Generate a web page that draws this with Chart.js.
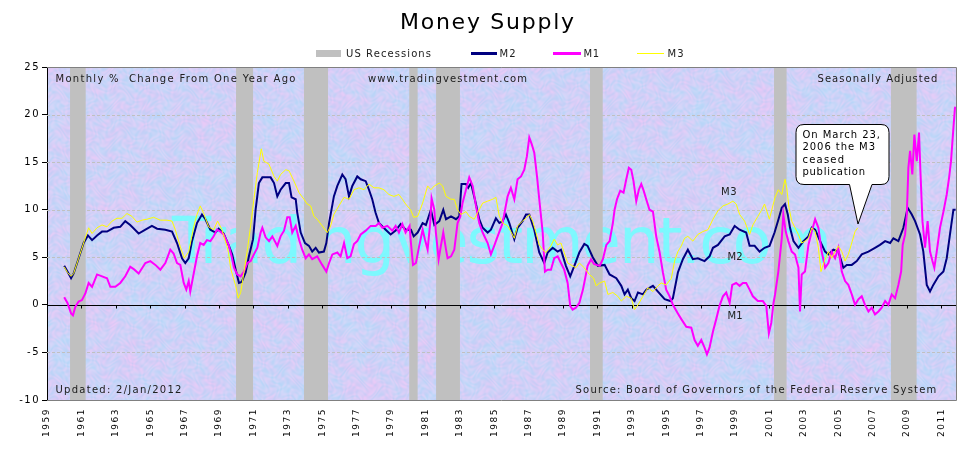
<!DOCTYPE html>
<html>
<head>
<meta charset="utf-8">
<script src="https://cdn.jsdelivr.net/npm/chart.js"></script>
<style>
  html, body { margin: 0; padding: 0; background: #ffffff; }
  #c { display: block; }
</style>
</head>
<body>
<canvas id="c" width="970" height="455"></canvas>
<script>
// ---------------- DATA ----------------
const tickYears = [1959,1961,1963,1965,1967,1969,1971,1973,1975,1977,1979,1981,1983,1985,1987,1989,1991,1993,1995,1997,1999,2001,2003,2005,2007,2009,2011];
const yTickValues = [-10,-5,0,5,10,15,20,25];

const recessionStart = [1960.34, 1969.99, 1973.94, 1980.06, 1981.62, 1990.57, 2001.27, 2008.07];
const recessionEnd   = [1961.25, 1970.98, 1975.34, 1980.55, 1983.01, 1991.31, 2002.00, 2009.56];

const m2Years = [1960.00,1960.19,1960.40,1960.55,1960.84,1961.13,1961.38,1961.62,1961.91,1962.20,1962.49,1962.88,1963.26,1963.55,1963.84,1964.33,1964.72,1965.10,1965.40,1965.88,1966.27,1966.56,1966.85,1967.04,1967.24,1967.43,1967.72,1968.01,1968.21,1968.50,1968.79,1968.98,1969.27,1969.58,1969.77,1969.97,1970.16,1970.32,1970.55,1970.74,1970.98,1971.13,1971.32,1971.52,1972.00,1972.20,1972.39,1972.58,1972.88,1973.07,1973.22,1973.46,1973.55,1973.75,1974.00,1974.23,1974.42,1974.62,1974.81,1975.10,1975.24,1975.40,1975.68,1975.88,1976.17,1976.36,1976.56,1976.75,1977.04,1977.24,1977.53,1977.72,1977.91,1978.10,1978.30,1978.69,1978.98,1979.27,1979.56,1979.85,1980.16,1980.32,1980.55,1980.84,1981.03,1981.32,1981.52,1981.81,1982.04,1982.20,1982.49,1982.78,1982.97,1983.10,1983.36,1983.49,1983.65,1983.94,1984.13,1984.33,1984.62,1984.81,1985.10,1985.30,1985.49,1985.68,1985.88,1986.17,1986.36,1986.65,1986.85,1987.04,1987.33,1987.62,1987.91,1988.11,1988.40,1988.69,1988.88,1989.17,1989.42,1989.66,1989.95,1990.24,1990.43,1990.73,1991.03,1991.42,1991.71,1992.10,1992.39,1992.58,1992.77,1992.97,1993.16,1993.36,1993.65,1993.84,1994.23,1994.52,1994.91,1995.24,1995.39,1995.68,1995.97,1996.26,1996.55,1996.84,1997.23,1997.52,1997.72,1998.01,1998.40,1998.69,1998.98,1999.27,1999.65,1999.85,2000.14,2000.43,2000.72,2001.01,2001.30,2001.53,2001.72,2001.91,2002.07,2002.20,2002.40,2002.69,2002.98,2003.27,2003.46,2003.66,2003.95,2004.24,2004.43,2004.72,2005.01,2005.30,2005.50,2005.79,2006.08,2006.37,2006.76,2007.14,2007.43,2007.73,2008.02,2008.21,2008.50,2008.79,2009.04,2009.28,2009.47,2009.76,2009.95,2010.15,2010.34,2010.53,2010.83,2011.12,2011.31,2011.50,2011.70,2011.83];
const m2Values = [4.1,3.5,2.8,3.3,4.9,6.5,7.3,6.8,7.3,7.7,7.7,8.1,8.2,8.8,8.4,7.5,7.9,8.3,8.0,7.9,7.7,6.5,4.9,4.4,4.9,6.7,8.6,9.5,9.0,7.9,7.6,8.0,7.5,6.2,5.3,3.7,2.3,2.4,3.4,5.1,6.9,10.0,12.8,13.4,13.4,12.8,11.4,12.1,12.8,12.8,11.3,11.1,9.7,7.6,6.5,6.2,5.6,6.0,5.5,5.6,6.5,8.6,11.4,12.5,13.7,13.2,11.4,12.5,13.5,13.2,13.0,12.1,11.1,9.7,8.6,7.9,7.4,7.8,8.5,7.9,7.9,7.2,7.6,8.6,8.4,10.0,8.4,8.8,10.0,9.0,9.3,9.0,9.3,12.7,12.7,12.3,12.8,10.6,9.0,8.1,7.6,7.9,9.1,8.6,8.8,9.5,8.6,6.9,8.1,8.8,9.5,9.5,7.9,5.5,4.4,5.5,6.0,5.6,5.8,4.1,3.0,4.1,5.5,6.4,6.2,5.0,4.1,4.2,3.2,2.8,2.0,1.1,1.6,0.7,0.4,1.3,1.1,1.6,2.0,1.4,0.6,0.4,0.7,3.4,4.8,5.8,4.8,4.9,4.6,5.1,6.0,6.3,7.2,7.4,8.3,7.9,7.6,6.2,6.2,5.6,6.0,6.2,7.6,9.0,10.2,10.6,9.5,8.1,6.7,6.0,6.7,7.2,8.1,7.9,6.7,5.6,5.3,5.8,5.6,3.9,4.2,4.2,4.6,5.3,5.6,6.0,6.3,6.7,6.5,7.0,6.7,8.1,10.2,9.5,8.8,7.4,5.6,2.1,1.4,2.1,3.0,3.5,4.9,7.4,10.0,10.0];

const m1Years = [1960.00,1960.19,1960.40,1960.51,1960.65,1960.84,1961.03,1961.23,1961.42,1961.62,1961.91,1962.20,1962.49,1962.68,1962.97,1963.26,1963.55,1963.84,1964.08,1964.33,1964.72,1965.01,1965.30,1965.59,1965.88,1966.17,1966.36,1966.56,1966.75,1966.95,1967.10,1967.24,1967.33,1967.53,1967.72,1967.91,1968.11,1968.30,1968.50,1968.69,1968.88,1969.08,1969.27,1969.56,1969.73,1969.87,1970.06,1970.26,1970.45,1970.65,1970.84,1971.03,1971.23,1971.42,1971.52,1971.71,1971.91,1972.10,1972.39,1972.58,1972.78,1972.97,1973.11,1973.26,1973.46,1973.65,1973.84,1974.04,1974.23,1974.42,1974.71,1975.00,1975.24,1975.40,1975.59,1975.88,1976.07,1976.27,1976.46,1976.65,1976.85,1977.04,1977.24,1977.53,1977.82,1978.11,1978.30,1978.50,1978.79,1979.08,1979.27,1979.46,1979.66,1979.85,1980.08,1980.16,1980.28,1980.45,1980.64,1980.84,1980.97,1981.13,1981.28,1981.36,1981.52,1981.61,1981.77,1981.90,1982.04,1982.20,1982.29,1982.49,1982.68,1982.87,1983.03,1983.16,1983.36,1983.55,1983.75,1983.94,1984.13,1984.33,1984.62,1984.81,1985.00,1985.20,1985.49,1985.78,1985.97,1986.17,1986.36,1986.56,1986.75,1986.90,1987.04,1987.18,1987.33,1987.49,1987.62,1987.82,1987.95,1988.11,1988.30,1988.49,1988.69,1988.88,1989.07,1989.27,1989.42,1989.56,1989.75,1989.95,1990.16,1990.28,1990.43,1990.63,1990.80,1990.94,1991.13,1991.32,1991.52,1991.71,1991.90,1992.00,1992.14,1992.33,1992.52,1992.68,1992.83,1992.97,1993.10,1993.26,1993.41,1993.55,1993.69,1993.84,1994.03,1994.23,1994.42,1994.62,1994.81,1995.00,1995.20,1995.39,1995.68,1995.88,1996.17,1996.46,1996.65,1996.84,1997.04,1997.23,1997.37,1997.52,1997.72,1997.91,1998.10,1998.30,1998.49,1998.69,1998.84,1999.07,1999.27,1999.46,1999.65,1999.85,2000.04,2000.33,2000.62,2000.82,2000.97,2001.11,2001.24,2001.33,2001.52,2001.72,2001.81,2001.95,2002.10,2002.30,2002.49,2002.69,2002.78,2002.88,2003.07,2003.27,2003.46,2003.66,2003.85,2004.04,2004.24,2004.43,2004.62,2004.82,2005.01,2005.21,2005.40,2005.59,2005.79,2005.98,2006.18,2006.37,2006.56,2006.76,2006.95,2007.14,2007.34,2007.53,2007.73,2007.92,2008.11,2008.31,2008.50,2008.66,2008.75,2008.89,2008.99,2009.08,2009.18,2009.31,2009.43,2009.57,2009.70,2009.78,2009.90,2010.05,2010.20,2010.34,2010.48,2010.59,2010.73,2010.92,2011.12,2011.31,2011.45,2011.56,2011.70,2011.79,2011.83];
const m1Values = [0.8,0.2,-0.9,-1.1,-0.2,0.35,0.5,1.2,2.3,1.9,3.2,3.0,2.8,1.9,1.9,2.3,3.0,4.0,3.7,3.3,4.4,4.6,4.2,3.7,4.4,5.8,5.4,4.4,4.2,2.3,1.6,2.5,1.4,3.3,5.1,6.5,6.3,6.8,6.7,7.2,7.9,7.7,7.4,6.3,5.1,3.9,3.2,3.0,3.5,4.4,4.6,5.3,6.0,7.6,8.1,7.1,6.7,7.2,6.2,7.2,7.8,9.2,9.2,7.6,8.3,6.9,5.8,4.9,5.3,4.8,5.1,4.2,3.5,4.4,5.3,5.5,5.1,6.5,4.9,5.1,6.4,6.7,7.4,7.8,8.3,8.3,8.6,8.1,8.3,7.8,8.3,7.6,8.5,7.6,8.3,6.5,4.2,4.4,6.2,7.9,6.9,5.8,8.6,11.2,10.0,7.6,4.8,6.2,7.6,5.8,4.9,5.1,5.8,8.6,9.3,10.7,12.1,13.4,12.5,10.4,8.6,7.6,6.5,5.3,6.2,7.2,8.6,11.4,12.3,11.1,13.2,13.5,14.2,15.6,17.6,16.9,16.0,13.5,11.1,7.6,3.5,3.7,3.7,4.9,5.1,4.4,3.7,2.3,-0.1,-0.5,-0.3,0.2,1.6,2.7,4.1,4.8,4.3,4.2,4.1,4.8,6.3,6.7,8.6,10.0,11.1,12.0,11.8,13.2,14.4,14.2,13.0,10.9,12.1,12.7,12.0,11.1,10.0,9.8,7.2,5.5,3.4,1.6,0.9,0.0,-0.9,-1.5,-2.3,-2.4,-3.7,-4.3,-3.7,-4.5,-5.2,-4.5,-2.8,-1.5,-0.1,0.9,1.3,0.2,2.1,2.3,2.0,2.3,2.3,1.6,0.9,0.4,0.4,-0.1,-3.0,-1.9,0.2,1.1,3.5,7.0,9.5,7.7,6.7,5.6,5.3,3.9,-0.7,3.2,3.5,6.3,7.7,9.0,8.1,5.6,3.9,4.4,5.6,4.9,6.0,3.5,2.5,2.1,1.1,0.0,0.6,0.9,0.0,-0.7,-0.3,-1.0,-0.7,-0.3,0.4,0.0,1.1,0.7,2.1,3.5,6.3,7.4,9.5,14.4,16.2,13.7,17.9,15.1,18.1,14.1,8.8,6.0,8.8,5.6,4.6,3.9,5.6,8.1,9.8,11.6,13.4,15.1,18.6,20.7,20.8];

const m3Years = [1960.00,1960.19,1960.40,1960.55,1960.84,1961.13,1961.42,1961.62,1961.91,1962.20,1962.49,1962.78,1963.07,1963.36,1963.65,1963.94,1964.23,1964.52,1964.81,1965.20,1965.59,1965.98,1966.27,1966.46,1966.75,1966.98,1967.24,1967.53,1967.72,1967.91,1968.11,1968.40,1968.69,1968.92,1969.17,1969.47,1969.55,1969.68,1969.97,1970.12,1970.26,1970.45,1970.65,1970.84,1971.03,1971.23,1971.46,1971.61,1971.90,1972.20,1972.39,1972.58,1972.88,1973.07,1973.36,1973.65,1973.94,1974.13,1974.33,1974.52,1974.71,1975.00,1975.30,1975.49,1975.68,1975.97,1976.27,1976.56,1976.85,1977.14,1977.43,1977.72,1978.01,1978.30,1978.59,1978.88,1979.17,1979.46,1979.66,1979.85,1980.14,1980.32,1980.55,1980.84,1981.13,1981.32,1981.52,1981.81,1982.00,1982.20,1982.49,1982.68,1982.87,1983.07,1983.36,1983.55,1983.84,1984.04,1984.33,1984.62,1984.91,1985.10,1985.30,1985.49,1985.78,1985.97,1986.17,1986.36,1986.65,1986.85,1987.04,1987.24,1987.43,1987.62,1987.82,1988.01,1988.30,1988.49,1988.69,1988.88,1989.07,1989.27,1989.46,1989.75,1989.95,1990.24,1990.53,1990.78,1990.93,1991.13,1991.42,1991.61,1991.90,1992.19,1992.39,1992.68,1992.97,1993.16,1993.36,1993.65,1993.94,1994.23,1994.52,1994.71,1995.00,1995.30,1995.49,1995.68,1995.88,1996.07,1996.26,1996.55,1996.84,1997.13,1997.43,1997.72,1998.01,1998.30,1998.59,1998.88,1999.07,1999.27,1999.56,1999.85,2000.04,2000.33,2000.53,2000.72,2001.00,2001.20,2001.33,2001.52,2001.72,2001.91,2002.01,2002.14,2002.30,2002.49,2002.69,2002.88,2003.07,2003.27,2003.46,2003.66,2003.85,2004.00,2004.20,2004.43,2004.62,2004.82,2005.01,2005.21,2005.40,2005.59,2005.82,2005.98,2006.14];
const m3Values = [4.0,3.4,3.0,3.3,4.9,6.5,8.1,7.5,8.1,8.4,8.2,8.8,9.1,9.1,9.6,9.3,8.7,8.9,9.0,9.2,8.9,8.9,8.8,7.9,6.1,4.9,5.6,8.2,9.5,10.4,9.6,8.2,7.9,8.8,7.9,6.1,5.5,3.8,2.0,0.7,1.3,3.4,5.8,8.3,11.1,13.9,16.4,15.1,14.8,13.5,13.0,13.7,14.2,14.1,13.0,11.8,11.1,10.6,10.4,9.3,9.0,8.3,7.6,8.3,9.5,10.4,11.3,11.1,12.1,12.3,12.1,12.7,12.3,12.3,12.1,11.6,11.4,11.6,11.1,10.6,10.0,9.2,9.3,10.7,12.5,12.1,12.5,12.8,12.5,11.4,11.1,11.1,10.0,9.5,9.8,9.3,9.0,9.7,10.7,10.9,11.1,11.3,9.3,8.6,8.3,7.7,7.0,8.3,8.8,9.1,9.5,8.8,7.6,6.3,5.8,5.5,6.2,6.9,6.3,6.5,5.5,4.4,4.2,3.9,4.4,3.9,3.2,2.8,2.0,2.3,2.5,1.1,1.3,0.9,0.4,0.9,0.7,-0.5,0.0,0.9,1.8,1.4,2.0,2.3,2.1,2.8,4.6,5.6,6.2,7.0,7.2,6.7,7.4,7.7,7.9,9.0,9.9,10.4,10.6,10.9,10.6,9.5,8.8,7.4,8.4,9.3,9.9,10.6,9.0,10.4,11.3,12.1,11.6,13.2,12.3,10.2,8.8,8.1,7.4,6.5,6.7,7.0,8.1,7.7,6.0,3.5,4.6,5.6,4.9,5.6,6.2,5.6,4.6,5.3,6.7,7.7,8.1];

// ---------------- helpers ----------------
const FONT = '"DejaVu Sans", Verdana, sans-serif';

function toPoints(xs, ys) { return xs.map((x, i) => ({ x: x, y: ys[i] })); }

function fitText(ctx, text, x, baseline, width, size, color) {
  ctx.save();
  ctx.font = size + 'px ' + FONT;
  ctx.fillStyle = color;
  ctx.textBaseline = 'alphabetic';
  ctx.textAlign = 'left';
  if ('letterSpacing' in ctx) ctx.letterSpacing = '0px';
  const w0 = ctx.measureText(text).width;
  const n = [...text].length;
  if ('letterSpacing' in ctx && n > 1) {
    const ls = (width - w0) / (n - 1);
    ctx.letterSpacing = ls.toFixed(2) + 'px';
    ctx.fillText(text, x, baseline);
  } else {
    ctx.translate(x, baseline);
    ctx.scale(width / w0, 1);
    ctx.fillText(text, 0, 0);
  }
  ctx.restore();
}

// decorative mottled backdrop (smooth warped sine blend, no data)
let textureCache = null;
function drawTexture(ctx, a) {
  const L = Math.round(a.left), T = Math.round(a.top);
  const w = Math.round(a.right) - L, h = Math.round(a.bottom) - T;
  if (!textureCache || textureCache.width !== w || textureCache.height !== h) {
    const img = ctx.createImageData(w, h);
    const d = img.data;
    for (let y = 0; y < h; y++) {
      for (let x = 0; x < w; x++) {
        const n1 = Math.sin(x * 0.043 + 1.9 * Math.sin(y * 0.037 + 0.7)) + Math.sin(y * 0.051 + 2.3 * Math.sin(x * 0.029 + 1.1));
        const n2 = Math.sin(x * 0.137 + 2.6 * Math.sin(y * 0.113 + 0.3 * Math.sin(x * 0.071))) *
                   Math.sin(y * 0.149 + 2.4 * Math.sin(x * 0.097 + 0.5));
        const n4 = Math.sin(x * 0.41 + 3.1 * Math.sin(y * 0.33 + 1.7 * Math.sin(x * 0.19))) *
                   Math.sin(y * 0.37 + 2.9 * Math.sin(x * 0.29 + 1.3 * Math.sin(y * 0.17)));
        let p = 0.42 + 0.08 * n1 + 0.22 * n2 + 0.2 * n4;
        p = Math.max(0, Math.min(1, p));
        const l = 5 * n4;
        const k = (y * w + x) * 4;
        d[k]     = 190 + 40 * p + l;
        d[k + 1] = 218 - 22 * p + l;
        d[k + 2] = 249 - 4 * p + l * 0.3;
        d[k + 3] = 255;
      }
    }
    textureCache = img;
  }
  ctx.putImageData(textureCache, L, T);
}

// ---------------- plugin: decorations ----------------
const decor = {
  id: 'decor',
  beforeDraw(chart) {
    const ctx = chart.ctx, a = chart.chartArea;
    ctx.save();
    ctx.fillStyle = '#ffffff';
    ctx.fillRect(0, 0, chart.width, chart.height);
    drawTexture(ctx, a);
    ctx.restore();
    // y-axis tick labels are letter spaced in the reference
    if ('letterSpacing' in ctx) ctx.letterSpacing = '1.5px';
  },
  beforeDatasetsDraw(chart) {
    const ctx = chart.ctx, a = chart.chartArea, xs = chart.scales.x, ys = chart.scales.y;
    if ('letterSpacing' in ctx) ctx.letterSpacing = '0px';
    ctx.save();
    ctx.beginPath();
    ctx.rect(a.left, a.top, a.right - a.left, a.bottom - a.top);
    ctx.clip();
    // watermark
    fitText(ctx, 'Tradingvestment.com', 172, 263, 660, 64, 'rgba(110,255,255,0.85)');
    // dashed grid lines
    ctx.strokeStyle = '#c0c0c0';
    ctx.lineWidth = 1;
    ctx.setLineDash([3, 2]);
    yTickValues.forEach(v => {
      if (v === 0 || v === 25 || v === -10) return;
      const py = Math.round(ys.getPixelForValue(v)) + 0.5;
      ctx.beginPath(); ctx.moveTo(a.left, py); ctx.lineTo(a.right, py); ctx.stroke();
    });
    ctx.setLineDash([]);
    // recession bands
    ctx.fillStyle = '#c0c0c0';
    recessionStart.forEach((s, i) => {
      const x0 = xs.getPixelForValue(s), x1 = xs.getPixelForValue(recessionEnd[i]);
      ctx.fillRect(x0, a.top, x1 - x0, a.bottom - a.top);
    });
    ctx.restore();
    // zero line + tick marks on it
    ctx.save();
    const zy = Math.round(ys.getPixelForValue(0)) + 0.5;
    ctx.strokeStyle = '#000000';
    ctx.lineWidth = 1;
    ctx.beginPath(); ctx.moveTo(a.left, zy); ctx.lineTo(a.right, zy); ctx.stroke();
    tickYears.forEach(t => {
      const px = Math.round(xs.getPixelForValue(t)) + 0.5;
      ctx.beginPath(); ctx.moveTo(px, zy); ctx.lineTo(px, zy + 3); ctx.stroke();
    });
    // frame (top, right, bottom)
    ctx.strokeStyle = '#808080';
    ctx.beginPath();
    ctx.moveTo(a.left, Math.round(a.top) + 0.5); ctx.lineTo(Math.round(a.right) + 0.5, Math.round(a.top) + 0.5);
    ctx.lineTo(Math.round(a.right) + 0.5, Math.round(a.bottom) + 0.5); ctx.lineTo(a.left, Math.round(a.bottom) + 0.5);
    ctx.stroke();
    ctx.restore();
  },
  afterDatasetsDraw(chart) {
    const ctx = chart.ctx;
    fitText(ctx, 'Monthly %  Change From One Year Ago', 55.5, 81.5, 240, 10, '#202020');
    fitText(ctx, 'www.tradingvestment.com', 368, 81.5, 159, 10, '#202020');
    fitText(ctx, 'Seasonally Adjusted', 817.5, 81.5, 120, 10, '#202020');
    fitText(ctx, 'Updated: 2/Jan/2012', 55.5, 393.3, 126, 10, '#202020');
    fitText(ctx, 'Source: Board of Governors of the Federal Reserve System', 575.5, 393.3, 361, 10, '#202020');
    fitText(ctx, 'M3', 721, 195, 15.5, 10, '#202020');
    fitText(ctx, 'M2', 727.5, 260, 15, 10, '#202020');
    fitText(ctx, 'M1', 727.5, 318.7, 15, 10, '#202020');
    // callout
    ctx.save();
    const L = 796, T = 124.5, R = 889, B = 184.5, r = 8;
    ctx.beginPath();
    ctx.moveTo(L + r, T);
    ctx.lineTo(R - r, T); ctx.quadraticCurveTo(R, T, R, T + r);
    ctx.lineTo(R, B - r); ctx.quadraticCurveTo(R, B, R - r, B);
    ctx.lineTo(872, B); ctx.lineTo(858, 224); ctx.lineTo(849.5, B);
    ctx.lineTo(L + r, B); ctx.quadraticCurveTo(L, B, L, B - r);
    ctx.lineTo(L, T + r); ctx.quadraticCurveTo(L, T, L + r, T);
    ctx.closePath();
    ctx.fillStyle = '#ffffff';
    ctx.fill();
    ctx.strokeStyle = '#000000';
    ctx.lineWidth = 1;
    ctx.stroke();
    ctx.restore();
    fitText(ctx, 'On March 23,', 802.5, 137.5, 77.5, 10, '#000000');
    fitText(ctx, '2006 the M3', 802.5, 150, 72.5, 10, '#000000');
    fitText(ctx, 'ceased', 802.5, 162.5, 41.5, 10, '#000000');
    fitText(ctx, 'publication', 802.5, 175, 62.5, 10, '#000000');
    if ('letterSpacing' in ctx) ctx.letterSpacing = '0px';
  },
  afterDraw(chart) {
    const ctx = chart.ctx;
    fitText(ctx, 'Money Supply', 400, 29.3, 174, 22, '#000000');
    ctx.save();
    ctx.fillStyle = '#c0c0c0';
    ctx.fillRect(316, 50, 25, 7);
    ctx.lineCap = 'butt';
    ctx.strokeStyle = '#000080'; ctx.lineWidth = 3;
    ctx.beginPath(); ctx.moveTo(471, 53.5); ctx.lineTo(497, 53.5); ctx.stroke();
    ctx.strokeStyle = '#ff00ff'; ctx.lineWidth = 3;
    ctx.beginPath(); ctx.moveTo(553, 53.5); ctx.lineTo(581, 53.5); ctx.stroke();
    ctx.strokeStyle = '#ffff00'; ctx.lineWidth = 1;
    ctx.beginPath(); ctx.moveTo(637, 53.5); ctx.lineTo(664, 53.5); ctx.stroke();
    ctx.restore();
    fitText(ctx, 'US Recessions', 346, 57, 85, 10, '#202020');
    fitText(ctx, 'M2', 499.5, 57, 16, 10, '#202020');
    fitText(ctx, 'M1', 583.5, 57, 15.5, 10, '#202020');
    fitText(ctx, 'M3', 667.5, 57, 16, 10, '#202020');
  }
};

// ---------------- chart ----------------
new Chart(document.getElementById('c'), {
  type: 'line',
  data: {
    datasets: [
      { label: 'M2', data: toPoints(m2Years, m2Values), borderColor: '#000080', borderWidth: 2, pointRadius: 0, tension: 0, fill: false, order: 3 },
      { label: 'M1', data: toPoints(m1Years, m1Values), borderColor: '#ff00ff', borderWidth: 2, pointRadius: 0, tension: 0, fill: false, order: 2 },
      { label: 'M3', data: toPoints(m3Years, m3Values), borderColor: '#ffff00', borderWidth: 1, pointRadius: 0, tension: 0, fill: false, order: 1 }
    ]
  },
  options: {
    responsive: false,
    devicePixelRatio: 1,
    animation: false,
    layout: { padding: { top: 67, right: 14, bottom: 0, left: 0 } },
    plugins: { legend: { display: false }, title: { display: false }, tooltip: { enabled: false } },
    events: [],
    scales: {
      x: {
        type: 'linear',
        min: 1959,
        max: 2011.85,
        z: 1,
        afterBuildTicks: (scale) => { scale.ticks = tickYears.map(v => ({ value: v })); },
        afterFit: (scale) => { scale.height = 55; },
        grid: { display: false, drawTicks: false },
        border: { display: false },
        ticks: {
          autoSkip: false,
          minRotation: 90,
          maxRotation: 90,
          padding: 8,
          color: '#000000',
          font: { family: FONT, size: 9 },
          callback: (v) => String(v)
        }
      },
      y: {
        type: 'linear',
        min: -10,
        max: 25,
        afterBuildTicks: (scale) => { scale.ticks = yTickValues.map(v => ({ value: v })); },
        afterFit: (scale) => { scale.width = 47; },
        grid: { drawOnChartArea: false, drawTicks: true, tickLength: 5, tickColor: '#000000', color: '#000000' },
        border: { display: true, color: '#000000', width: 1 },
        ticks: {
          padding: 2,
          color: '#000000',
          font: { family: FONT, size: 10 },
          callback: (v) => String(v)
        }
      }
    }
  },
  plugins: [decor]
});
</script>
</body>
</html>
